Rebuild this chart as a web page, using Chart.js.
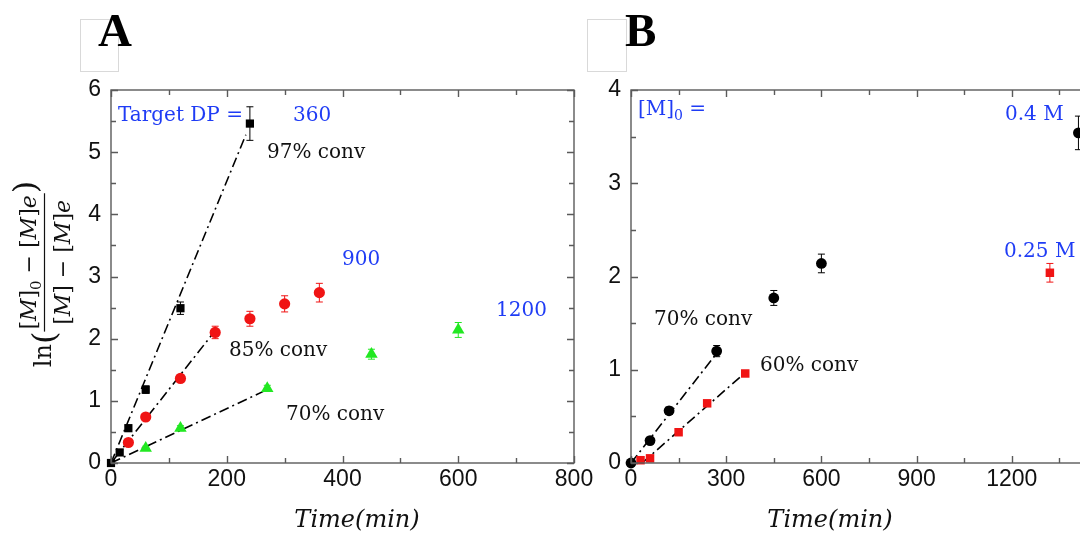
<!DOCTYPE html>
<html>
<head>
<meta charset="utf-8">
<script src="https://cdn.jsdelivr.net/npm/chart.js@4.4.1/dist/chart.umd.min.js"></script>
<style>
  html, body { margin: 0; padding: 0; background: #fff; }
  body { width: 1080px; height: 535px; overflow: hidden; position: relative; }
  canvas { position: absolute; top: 0; }
  #chartA { left: 0; }
  #chartB { left: 580px; }
</style>
</head>
<body>
<canvas id="chartA" width="600" height="535"></canvas>
<canvas id="chartB" width="560" height="535"></canvas>
<script>
// ====== Data: panel A (different target DP) ======
const timeA360 = [0, 15, 30, 60, 120, 240];
const lnA360 = [0, 0.17, 0.56, 1.18, 2.49, 5.46];
const errA360 = [0, 0.04, 0.05, 0.06, 0.1, 0.27];

const timeA900 = [30, 60, 120, 180, 240, 300, 360];
const lnA900 = [0.33, 0.74, 1.36, 2.10, 2.32, 2.56, 2.74];
const errA900 = [0.04, 0.05, 0.06, 0.1, 0.12, 0.13, 0.15];

const timeA1200 = [60, 120, 270, 450, 600];
const lnA1200 = [0.24, 0.56, 1.20, 1.75, 2.14];
const errA1200 = [0.03, 0.04, 0.05, 0.08, 0.12];

// linear fits over the early-time region
const fitA360x = [0, 233];
const fitA360y = [0, 5.28];
const fitA900x = [0, 175];
const fitA900y = [0, 2.07];
const fitA1200x = [0, 265];
const fitA1200y = [0, 1.16];

const ticksAx = [0, 200, 400, 600, 800];
const ticksAy = [0, 1, 2, 3, 4, 5, 6];

// ====== Data: panel B (different [M]0) ======
const timeB04 = [0, 60, 120, 270, 450, 600, 1410];
const lnB04 = [0, 0.24, 0.56, 1.20, 1.77, 2.14, 3.54];
const errB04 = [0, 0.03, 0.04, 0.06, 0.08, 0.1, 0.18];

const timeB025 = [30, 60, 150, 240, 360, 1320];
const lnB025 = [0.03, 0.05, 0.33, 0.64, 0.96, 2.04];
const errB025 = [0, 0.02, 0.02, 0.03, 0.03, 0.1];

const fitB04x = [0, 264];
const fitB04y = [0, 1.15];
const fitB025x = [35, 350];
const fitB025y = [0, 0.94];

const ticksBx = [0, 300, 600, 900, 1200, 1500];
const ticksBy = [0, 1, 2, 3, 4];

// ====== Styles ======
const BLUE = '#1f3cf5';
const RED = '#f01414';
const GREEN = '#22e822';
const INK = '#111';
const AXIS = '#5a5a5a';
const tickFont = { family: '"Liberation Sans", Arial, sans-serif', size: 23 };
const noteFont = '20px "DejaVu Serif", serif';

const toPoints = (xs, ys) => xs.map((x, i) => ({ x: x, y: ys[i] }));

function markers(xs, ys, errs, color, style, radius) {
    return {
        data: toPoints(xs, ys),
        errors: errs,
        backgroundColor: color,
        borderColor: color,
        borderWidth: 0,
        pointStyle: style,
        pointRadius: radius,
        showLine: false,
        clip: false,
        order: 1
    };
}

function fitLine(xs, ys) {
    return {
        data: toPoints(xs, ys),
        showLine: true,
        borderColor: '#000',
        borderWidth: 1.6,
        borderDash: [10, 4, 2, 4],
        pointRadius: 0,
        order: 2
    };
}

// ====== Plugins ======
// vertical error bars with small caps, drawn under the markers
const errorBars = {
    id: 'errorBars',
    beforeDatasetsDraw(chart) {
        const ctx = chart.ctx;
        const xs = chart.scales.x, ys = chart.scales.y;
        chart.data.datasets.forEach(ds => {
            if (!ds.errors) return;
            ctx.save();
            ctx.strokeStyle = ds.borderColor;
            ctx.lineWidth = 1;
            ds.data.forEach((p, i) => {
                const e = ds.errors[i];
                if (!e) return;
                const px = xs.getPixelForValue(p.x);
                const top = ys.getPixelForValue(p.y + e);
                const bot = ys.getPixelForValue(p.y - e);
                ctx.beginPath();
                ctx.moveTo(px, top); ctx.lineTo(px, bot);
                ctx.moveTo(px - 3.5, top); ctx.lineTo(px + 3.5, top);
                ctx.moveTo(px - 3.5, bot); ctx.lineTo(px + 3.5, bot);
                ctx.stroke();
            });
            ctx.restore();
        });
    }
};

// box frame with inward major/minor ticks on all four sides
const frame = {
    id: 'frame',
    afterDraw(chart, args, opts) {
        const ctx = chart.ctx;
        const a = chart.chartArea;
        const xs = chart.scales.x, ys = chart.scales.y;
        ctx.save();
        ctx.strokeStyle = AXIS;
        ctx.lineWidth = 1.4;
        ctx.strokeRect(a.left, a.top, a.right - a.left, a.bottom - a.top);
        ctx.beginPath();
        for (let v = xs.min; v <= xs.max + 1e-9; v += opts.minorX) {
            const px = Math.round(xs.getPixelForValue(v)) + 0.5;
            const len = Math.abs(v % opts.majorX) < 1e-9 ? 7 : 5;
            ctx.moveTo(px, a.bottom); ctx.lineTo(px, a.bottom - len);
            ctx.moveTo(px, a.top); ctx.lineTo(px, a.top + len);
        }
        for (let v = ys.min; v <= ys.max + 1e-9; v += opts.minorY) {
            const py = Math.round(ys.getPixelForValue(v)) + 0.5;
            const len = Math.abs(v % opts.majorY) < 1e-9 ? 7 : 5;
            ctx.moveTo(a.left, py); ctx.lineTo(a.left + len, py);
            ctx.moveTo(a.right, py); ctx.lineTo(a.right - len, py);
        }
        ctx.stroke();
        ctx.restore();
    }
};

// panel letter, labels next to the curves and the axis titles
const notes = {
    id: 'notes',
    afterDraw(chart, args, opts) {
        const ctx = chart.ctx;
        ctx.save();
        ctx.strokeStyle = '#d9d9d9';
        ctx.lineWidth = 1;
        ctx.strokeRect(opts.box[0] + 0.5, 19.5, opts.box[1], 52);
        ctx.fillStyle = '#000';
        ctx.font = 'bold 47px "Liberation Serif", serif';
        ctx.textBaseline = 'alphabetic';
        ctx.fillText(opts.letter, opts.letterX, 46);

        ctx.textBaseline = 'middle';
        ctx.font = noteFont;
        opts.items.forEach(it => {
            ctx.fillStyle = it.color;
            if (it.sub) {
                // text with a subscript, e.g. [M]0 =
                let x = it.x;
                ctx.font = noteFont;
                ctx.fillText(it.text, x, it.y);
                x += ctx.measureText(it.text).width;
                ctx.font = '14px "DejaVu Serif", serif';
                ctx.fillText(it.sub, x, it.y + 6);
                x += ctx.measureText(it.sub).width;
                ctx.font = noteFont;
                ctx.fillText(it.after, x, it.y);
            } else {
                ctx.fillText(it.text, it.x, it.y);
            }
        });

        ctx.fillStyle = INK;
        ctx.textAlign = 'center';
        ctx.font = 'italic 24px "DejaVu Serif", serif';
        ctx.fillText('Time(min)', opts.xTitle, 521);
        ctx.textAlign = 'left';
        if (opts.yTitle) drawYTitle(ctx);
        ctx.restore();
    }
};

// ln( ([M]0 - [M]e) / ([M] - [M]e) ), written bottom-to-top
function drawYTitle(ctx) {
    const up = '22px "DejaVu Serif", serif';
    const it = 'italic 22px "DejaVu Serif", serif';
    const small = '15px "DejaVu Serif", serif';
    const num = [['[', up, 0], ['M', it, 0], [']', up, 0], ['0', small, 5], [' \u2212 ', up, 0],
                 ['[', up, 0], ['M', it, 0], [']', up, 0], ['e', it, 0]];
    const den = [['[', up, 0], ['M', it, 0], [']', up, 0], [' \u2212 ', up, 0],
                 ['[', up, 0], ['M', it, 0], [']', up, 0], ['e', it, 0]];
    const runWidth = runs => runs.reduce((w, r) => { ctx.font = r[1]; return w + ctx.measureText(r[0]).width; }, 0);
    const drawRuns = (runs, x0, base) => {
        let x = x0;
        runs.forEach(r => {
            ctx.font = r[1];
            ctx.fillText(r[0], x, base + r[2]);
            x += ctx.measureText(r[0]).width;
        });
    };

    ctx.save();
    ctx.fillStyle = INK;
    ctx.textBaseline = 'alphabetic';
    ctx.textAlign = 'left';
    ctx.font = '24px "DejaVu Serif", serif';
    const lnW = ctx.measureText('ln').width;
    ctx.font = '32px "DejaVu Serif", serif';
    const parW = ctx.measureText('(').width;
    const nW = runWidth(num), dW = runWidth(den);
    const fW = Math.max(nW, dW) + 4;
    const total = lnW + parW * 2 + fW;

    ctx.translate(0, 274 + total / 2);
    ctx.rotate(-Math.PI / 2);
    let u = 0;
    ctx.font = '24px "DejaVu Serif", serif';
    ctx.fillText('ln', u, 51);
    u += lnW;
    ctx.font = '32px "DejaVu Serif", serif';
    ctx.fillText('(', u, 55);
    u += parW;
    drawRuns(num, u + (fW - nW) / 2, 36);
    drawRuns(den, u + (fW - dW) / 2, 70);
    ctx.strokeStyle = INK;
    ctx.lineWidth = 1.2;
    ctx.beginPath();
    ctx.moveTo(u, 44.5); ctx.lineTo(u + fW, 44.5);
    ctx.stroke();
    u += fW;
    ctx.font = '32px "DejaVu Serif", serif';
    ctx.fillText(')', u, 36);
    ctx.restore();
}

// ====== Chart setup ======
function buildChart(id, cfg) {
    return new Chart(document.getElementById(id), {
        type: 'scatter',
        data: { datasets: cfg.datasets },
        options: {
            responsive: false,
            animation: false,
            devicePixelRatio: 1,
            layout: { padding: { left: 0, top: 90, right: cfg.padRight, bottom: 0 } },
            plugins: {
                legend: { display: false },
                tooltip: { enabled: false },
                frame: cfg.frame,
                notes: cfg.notes
            },
            scales: {
                x: {
                    type: 'linear',
                    min: cfg.xTicks[0],
                    max: cfg.xTicks[cfg.xTicks.length - 1],
                    grid: { display: false, drawTicks: false },
                    border: { display: false },
                    ticks: { padding: 3, font: tickFont, color: INK, maxRotation: 0, callback: v => String(v) },
                    afterBuildTicks: s => { s.ticks = cfg.xTicks.map(v => ({ value: v })); },
                    afterFit: s => { s.height = 72; }
                },
                y: {
                    type: 'linear',
                    min: cfg.yTicks[0],
                    max: cfg.yTicks[cfg.yTicks.length - 1],
                    grid: { display: false, drawTicks: false },
                    border: { display: false },
                    ticks: { padding: 10, font: tickFont, color: INK, callback: v => String(v) },
                    afterBuildTicks: s => { s.ticks = cfg.yTicks.map(v => ({ value: v })); },
                    afterFit: s => { s.width = cfg.yWidth; }
                }
            }
        },
        plugins: [errorBars, frame, notes]
    });
}

buildChart('chartA', {
    padRight: 26,
    yWidth: 111,
    xTicks: ticksAx,
    yTicks: ticksAy,
    datasets: [
        markers(timeA360, lnA360, errA360, '#000', 'rect', 5.8),
        markers(timeA900, lnA900, errA900, RED, 'circle', 5.6),
        markers(timeA1200, lnA1200, errA1200, GREEN, 'triangle', 7.2),
        fitLine(fitA360x, fitA360y),
        fitLine(fitA900x, fitA900y),
        fitLine(fitA1200x, fitA1200y)
    ],
    frame: { minorX: 100, majorX: 200, minorY: 0.5, majorY: 1 },
    notes: {
        box: [80, 38], letter: 'A', letterX: 98, xTitle: 357, yTitle: true,
        items: [
            { text: 'Target DP =', x: 118, y: 116, color: BLUE },
            { text: '360', x: 293, y: 116, color: BLUE },
            { text: '97% conv', x: 267, y: 153, color: INK },
            { text: '900', x: 342, y: 260, color: BLUE },
            { text: '85% conv', x: 229, y: 351, color: INK },
            { text: '1200', x: 496, y: 311, color: BLUE },
            { text: '70% conv', x: 286, y: 415, color: INK }
        ]
    }
});

buildChart('chartB', {
    padRight: 33,
    yWidth: 51,
    xTicks: ticksBx,
    yTicks: ticksBy,
    datasets: [
        markers(timeB04, lnB04, errB04, '#000', 'circle', 5.4),
        markers(timeB025, lnB025, errB025, RED, 'rect', 6),
        fitLine(fitB04x, fitB04y),
        fitLine(fitB025x, fitB025y)
    ],
    frame: { minorX: 150, majorX: 300, minorY: 0.5, majorY: 1 },
    notes: {
        box: [7, 39], letter: 'B', letterX: 45, xTitle: 250, yTitle: false,
        items: [
            { text: '[M]', sub: '0', after: ' =', x: 58, y: 110, color: BLUE },
            { text: '0.4 M', x: 425, y: 115, color: BLUE },
            { text: '0.25 M', x: 424, y: 252, color: BLUE },
            { text: '70% conv', x: 74, y: 320, color: INK },
            { text: '60% conv', x: 180, y: 366, color: INK }
        ]
    }
});
</script>
</body>
</html>
